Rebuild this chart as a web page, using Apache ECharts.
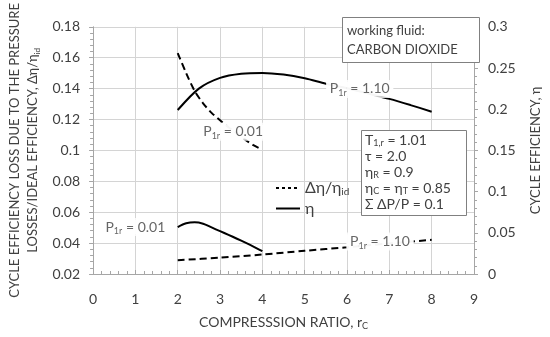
<!DOCTYPE html>
<html><head><meta charset="utf-8">
<script src="https://cdn.jsdelivr.net/npm/echarts@6/dist/echarts.min.js"></script>
<style>html,body{margin:0;padding:0;background:#fff}#c{width:550px;height:337px}</style>
</head><body><div id="c"></div>
<script>
// X ticks / axis ranges
const xTicks = [0,1,2,3,4,5,6,7,8,9];
// Δη/ηid, P1r = 0.01 (left axis)
const lossLowX = [2, 2.2, 2.4, 2.6, 2.8, 3.0, 3.2, 3.4, 3.6, 3.8, 4.0];
const lossLowY = [0.163, 0.150, 0.1385, 0.1305, 0.1243, 0.1195, 0.1150, 0.1110, 0.1068, 0.1032, 0.1005];
// Δη/ηid, P1r = 1.10 (left axis)
const lossHighX = [2, 3, 4, 5, 6, 7, 8];
const lossHighY = [0.0289, 0.0306, 0.0326, 0.0350, 0.0373, 0.0398, 0.0421];
// η, P1r = 1.10 (right axis)
const etaHighX = [2, 2.5, 3, 3.5, 4, 4.5, 5, 5.5, 6, 6.5, 7, 7.5, 8];
const etaHighY = [0.199, 0.225, 0.238, 0.243, 0.244, 0.242, 0.2375, 0.231, 0.2255, 0.219, 0.2125, 0.205, 0.197];
// η, P1r = 0.01 (right axis)
const etaLowX = [2, 2.2, 2.4, 2.6, 2.8, 3.0, 3.2, 3.4, 3.6, 3.8, 4.0];
const etaLowY = [0.057, 0.0615, 0.0627, 0.061, 0.0565, 0.052, 0.0475, 0.0428, 0.038, 0.033, 0.0277];
// annotations [x, y, text]
const notesLeft = [[3.31, 0.112, '0.01'], [1.0, 0.0504, '0.01'], [6.78, 0.0411, '1.10']];
const notesRight = [[6.3, 0.2246, '1.10']];

const zip = (a, b) => a.map((v, i) => [v, b[i]]);
const txt = '#404040';
const FONT = 'Lato';
const noteRich = {
  m: {fontSize: 14, fontFamily: FONT, color: txt, lineHeight: 18, backgroundColor: '#fff'},
  s: {fontSize: 9, fontFamily: FONT, color: txt, lineHeight: 18, verticalAlign: 'bottom', padding: [6,0,0,0], backgroundColor: '#fff'}
};
const noteLabel = {
  show: true, position: 'inside',
  formatter: p => '{m| P}{s|1r}{m| = ' + p.data[2] + ' }',
  rich: noteRich, backgroundColor: '#fff'
};
const chart = echarts.init(document.getElementById('c'));
chart.setOption({
  animation: false,
  backgroundColor: '#fff',
  grid: {left: 84, right: 72, top: 11, bottom: 63},
  title: [
    {text: 'working fluid:\nCARBON DIOXIDE', left: 342, top: 17,
     borderColor: '#808080', borderWidth: 1, backgroundColor: '#fff',
     padding: [4, 22, 4, 5],
     textStyle: {fontFamily: FONT, fontSize: 13, fontWeight: 'normal', color: txt, lineHeight: 19}},
    {text: '{a|T}{b|1,r}{a| = 1.01}\n{a|τ = 2.0}\n{a|η}{b|R}{a| = 0.9}\n{a|η}{b|C}{a| = η}{b|T}{a| = 0.85}\n{a|Σ ΔP/P = 0.1}',
     left: 361, top: 130,
     borderColor: '#808080', borderWidth: 1, backgroundColor: '#fff',
     padding: [2, 16, 4, 4],
     textStyle: {fontFamily: FONT, fontSize: 14, fontWeight: 'normal', color: txt, lineHeight: 16,
       rich: {a: {fontFamily: FONT, fontSize: 14, color: txt, lineHeight: 16},
              b: {fontFamily: FONT, fontSize: 9, color: txt, lineHeight: 16, verticalAlign: 'bottom', padding: [5,0,0,0]}}}}
  ],
  legend: {
    orient: 'vertical', left: 270, top: 175, itemWidth: 24, itemHeight: 12, itemGap: 4,
    itemStyle: {opacity: 0},
    data: [{name: 'dloss', lineStyle: {type: [3, 3], width: 2, color: '#000'}},
           {name: 'eta', lineStyle: {type: 'solid', width: 2, color: '#000'}}],
    formatter: n => n === 'dloss' ? '{a|Δη/η}{s|id}' : '{a|η}',
    textStyle: {rich: {a: {fontFamily: FONT, fontSize: 16, color: txt, lineHeight: 17},
                       s: {fontFamily: FONT, fontSize: 10, color: txt, lineHeight: 17, verticalAlign: 'bottom', padding: [6,0,0,0]}}}
  },
  xAxis: {
    type: 'value', min: xTicks[0], max: xTicks[xTicks.length - 1], interval: 1,
    name: '{a|COMPRESSSION RATIO, r}{s|C}', nameLocation: 'middle', nameGap: 39,
    nameTextStyle: {rich: {a: {fontFamily: FONT, fontSize: 14, color: txt, lineHeight: 18},
                           s: {fontFamily: FONT, fontSize: 9, color: txt, lineHeight: 18, verticalAlign: 'bottom', padding: [6,0,0,0]}}},
    axisLine: {lineStyle: {color: '#a6a6a6'}},
    axisTick: {show: true, inside: true, length: 4, lineStyle: {color: '#a6a6a6'}},
    minorTick: {show: true, splitNumber: 5, length: 3, lineStyle: {color: '#a6a6a6'}},
    axisLabel: {fontFamily: FONT, fontSize: 14, color: txt, margin: 18},
    splitLine: {show: true, lineStyle: {color: '#d4d4d4'}}
  },
  yAxis: [
    {type: 'value', min: 0.02, max: 0.18, interval: 0.02, position: 'left',
     name: '{a|CYCLE EFFICIENCY LOSS DUE TO THE PRESSURE}\n{a|LOSSES/IDEAL EFFICIENCY, Δη/η}{s|id}',
     nameLocation: 'middle', nameGap: 46, nameRotate: 90,
     nameTextStyle: {align: 'center', rich: {a: {fontFamily: FONT, fontSize: 13, color: txt, lineHeight: 18},
                             s: {fontFamily: FONT, fontSize: 8, color: txt, lineHeight: 18, verticalAlign: 'bottom', padding: [5,0,0,0]}}},
     axisLine: {show: true, lineStyle: {color: '#a6a6a6'}},
     axisTick: {show: true, length: 4, lineStyle: {color: '#a6a6a6'}},
     minorTick: {show: true, splitNumber: 5, length: 3, lineStyle: {color: '#a6a6a6'}},
     axisLabel: {fontFamily: FONT, fontSize: 14, color: txt, margin: 13},
     splitLine: {show: true, lineStyle: {color: '#d4d4d4'}}},
    {type: 'value', min: 0, max: 0.3, interval: 0.05, position: 'right',
     name: 'CYCLE EFFICIENCY, η', nameLocation: 'middle', nameGap: 55, nameRotate: 90,
     nameTextStyle: {fontFamily: FONT, fontSize: 13, color: txt},
     axisLine: {show: true, lineStyle: {color: '#a6a6a6'}},
     axisTick: {show: true, length: 4, lineStyle: {color: '#a6a6a6'}},
     minorTick: {show: true, splitNumber: 5, length: 3, lineStyle: {color: '#a6a6a6'}},
     axisLabel: {fontFamily: FONT, fontSize: 14, color: txt, margin: 14},
     splitLine: {show: false}}
  ],
  series: [
    {name: 'dloss', type: 'line', yAxisIndex: 0, data: zip(lossLowX, lossLowY), smooth: 0.3, symbol: 'none',
     lineStyle: {color: '#000', width: 2, type: [7, 4]}, itemStyle: {color: '#000'}},
    {name: 'dloss', type: 'line', yAxisIndex: 0, data: zip(lossHighX, lossHighY), smooth: 0.3, symbol: 'none',
     lineStyle: {color: '#000', width: 2, type: [7, 4]}, itemStyle: {color: '#000'}},
    {name: 'eta', type: 'line', yAxisIndex: 1, data: zip(etaHighX, etaHighY), smooth: 0.3, symbol: 'none',
     lineStyle: {color: '#000', width: 2}, itemStyle: {color: '#000'}},
    {name: 'eta', type: 'line', yAxisIndex: 1, data: zip(etaLowX, etaLowY), smooth: 0.3, symbol: 'none',
     lineStyle: {color: '#000', width: 2}, itemStyle: {color: '#000'}},
    {name: 'notesL', type: 'scatter', yAxisIndex: 0, zlevel: 1, z: 5, symbolSize: 1, itemStyle: {color: 'rgba(0,0,0,0)'},
     data: notesLeft, label: noteLabel, silent: true},
    {name: 'notesR', type: 'scatter', yAxisIndex: 1, zlevel: 1, z: 5, symbolSize: 1, itemStyle: {color: 'rgba(0,0,0,0)'},
     data: notesRight, label: noteLabel, silent: true}
  ]
});
</script></body></html>
